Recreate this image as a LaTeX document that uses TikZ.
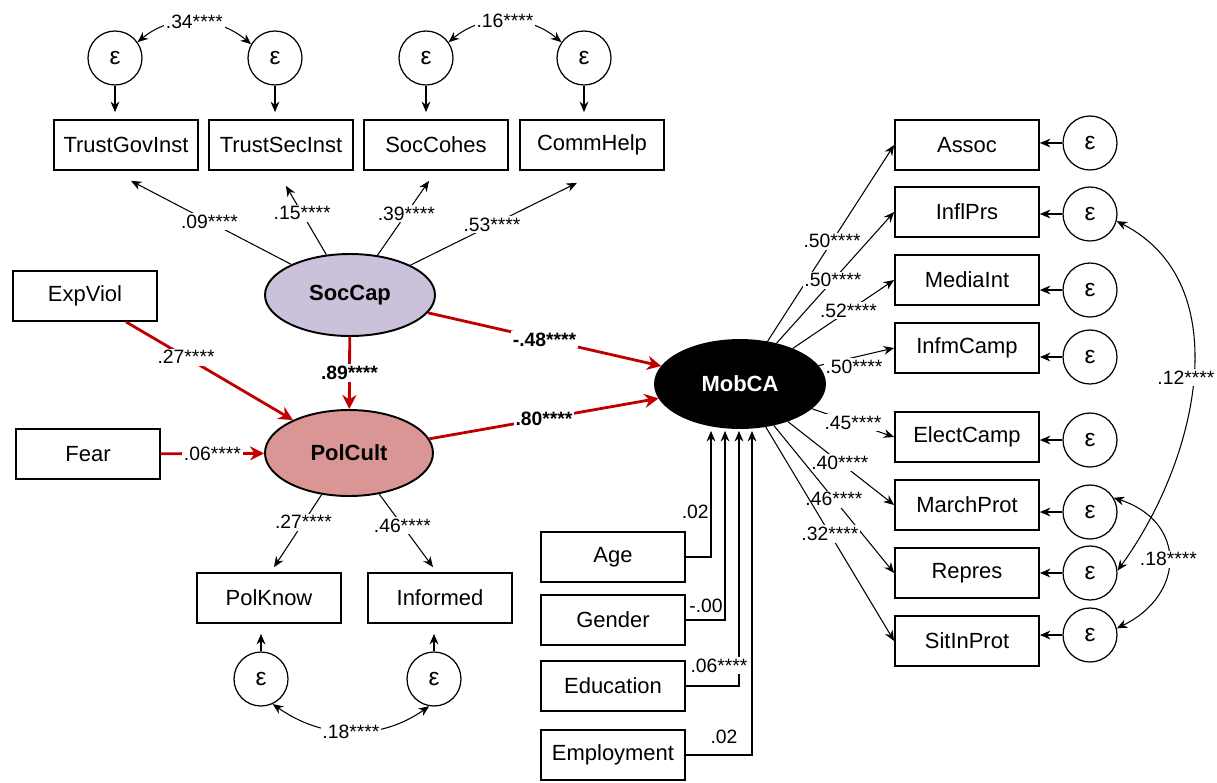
\documentclass[tikz,border=0pt]{standalone}
\usepackage{fontspec}
\setmainfont{Liberation Sans}
\usetikzlibrary{shapes.geometric,arrows.meta,calc}
\definecolor{pathred}{RGB}{192,0,0}
\definecolor{soccapfill}{RGB}{204,193,218}
\definecolor{polcultfill}{RGB}{217,150,148}
\tikzset{
  obs/.style={draw, line width=1pt, minimum width=2.88cm, minimum height=1cm, inner sep=0pt, font=\fontsize{12.5}{14}\selectfont},
  err/.style={draw, circle, line width=0.7pt, minimum size=1.08cm, inner sep=0pt, font=\fontsize{14}{16}\selectfont},
  lat/.style={draw, ellipse, line width=1.1pt, inner sep=0pt, font=\bfseries\fontsize{12.5}{14}\selectfont},
  coef/.style={fill=white, inner sep=1pt, font=\fontsize{11}{13}\selectfont},
  bcoef/.style={coef, font=\bfseries\fontsize{11}{13}\selectfont},
  ctrl/.style={inner sep=1pt, font=\fontsize{11}{13}\selectfont},
  redpath/.style={draw=pathred, line width=1.6pt, -{Stealth[length=8pt,width=8pt]}}
}
\begin{document}
\begin{tikzpicture}[x=0.02cm, y=0.02cm, line width=0.6pt, >={Stealth[length=6pt,width=5pt]}]
    \useasboundingbox (0,0) rectangle (1217,-782);
    \node[err] (e1) at (115,-58) {ε};
    \node[err] (e2) at (275,-58) {ε};
    \node[err] (e3) at (426,-58) {ε};
    \node[err] (e4) at (584,-58) {ε};
    \node[obs] (t1) at (126,-145) {TrustGovInst};
    \node[obs] (t2) at (281,-145) {TrustSecInst};
    \node[obs] (t3) at (436,-145) {SocCohes};
    \node[obs] (t4) at (592,-145) {CommHelp};
    \draw[->, shorten >=0.14cm] (e1.south) -- (e1.south |- t1.north);
    \draw[->, shorten >=0.14cm] (e2.south) -- (e2.south |- t2.north);
    \draw[->, shorten >=0.14cm] (e3.south) -- (e3.south |- t3.north);
    \draw[->, shorten >=0.14cm] (e4.south) -- (e4.south |- t4.north);
    \draw[<->] (e1.35) to[out=40, in=140] node[coef, midway] {.34****} (e2.150);
    \draw[<->] (e3.35) to[out=40, in=140] node[coef, midway] {.16****} (e4.145);

    \node[lat, fill=soccapfill, minimum width=3.4cm, minimum height=1.64cm] (soccap) at (350,-295) {SocCap};
    \node[lat, fill=polcultfill, minimum width=3.36cm, minimum height=1.72cm] (polcult) at (349,-453) {PolCult};
    \node[lat, fill=black, text=white, minimum width=3.4cm, minimum height=1.76cm] (mobca) at (740,-384) {MobCA};
    \draw[->] (soccap) -- ($(t1.south)+(5,-10)$) node[coef, pos=.51] {.09****};
    \draw[->] (soccap) -- ($(t2.south)+(5,-15)$) node[coef, pos=.6] {.15****};
    \draw[->] (soccap) -- ($(t3.south)+(-7,-10)$) node[coef, pos=.56] {.39****};
    \draw[->] (soccap) -- ($(t4.south)+(-15,-12)$) node[coef, pos=.49] {.53****};

    \node[obs] (expviol) at (85,-296) {ExpViol};
    \node[obs] (fear) at (88,-454) {Fear};
    \draw[redpath] ($(expviol.south)+(41,0)$) -- (polcult) node[coef, pos=.36] {.27****};
    \draw[redpath] (fear) -- (polcult) node[coef, midway] {.06****};
    \draw[redpath] (soccap) -- (polcult) node[bcoef, midway] {.89****};
    \draw[redpath] (soccap) -- (mobca) node[bcoef, midway] {-.48****};
    \draw[redpath] (polcult) -- (mobca) node[bcoef, midway] {.80****};

    \node[obs] (polknow) at (269,-598) {PolKnow};
    \node[obs] (informed) at (440,-598) {Informed};
    \node[err] (e5) at (261,-679) {ε};
    \node[err] (e6) at (434,-679) {ε};
    \draw[->] (polcult) -- ($(polknow.north)+(5,5)$) node[coef, pos=.38] {.27****};
    \draw[->] (polcult) -- ($(informed.north)+(-7,5)$) node[coef, pos=.43] {.46****};
    \draw[->, shorten >=0.2cm] (e5.north) -- (e5.north |- polknow.south);
    \draw[->, shorten >=0.2cm] (e6.north) -- (e6.north |- informed.south);
    \draw[<->] (e5.-65) to[out=-35, in=-145] node[coef, midway] {.18****} (e6.-100);

    \node[obs] (age) at (613,-557) {Age};
    \node[obs] (gender) at (613,-620) {Gender};
    \node[obs] (education) at (613,-686) {Education};
    \node[obs] (employment) at (613,-755) {Employment};
    \draw[->] (age.east) -| ($(mobca.south)+(-29,-2)$) node[ctrl, pos=.68, left] {.02};
    \draw[->] (gender.east) -| ($(mobca.south)+(-15,-2)$) node[ctrl, pos=.5, anchor=south east, yshift=3pt] {-.00};
    \draw[->] (education.east) -| ($(mobca.south)+(-1,-2)$) node[coef, pos=.54, xshift=-0.4cm] {.06****};
    \draw[->] (employment.east) -| ($(mobca.south)+(12,-2)$) node[ctrl, pos=.5, anchor=south east, xshift=-7pt, yshift=5pt] {.02};

    \node[obs] (assoc) at (967,-145) {Assoc};
    \node[obs] (inflprs) at (967,-212) {InflPrs};
    \node[obs] (mediaint) at (967,-280) {MediaInt};
    \node[obs] (infmcamp) at (967,-348) {InfmCamp};
    \node[obs] (electcamp) at (967,-437) {ElectCamp};
    \node[obs] (marchprot) at (967,-505) {MarchProt};
    \node[obs] (repres) at (967,-573) {Repres};
    \node[obs] (sitinprot) at (967,-641) {SitInProt};
    \node[err] (r1) at (1090,-143) {ε};
    \node[err] (r2) at (1090,-214) {ε};
    \node[err] (r3) at (1090,-290) {ε};
    \node[err] (r4) at (1090,-357) {ε};
    \node[err] (r5) at (1090,-440) {ε};
    \node[err] (r6) at (1090,-512) {ε};
    \node[err] (r7) at (1090,-573) {ε};
    \node[err] (r8) at (1090,-635) {ε};
    \draw[->] (r1.west) -- (r1.west -| assoc.east);
    \draw[->] (r2.west) -- (r2.west -| inflprs.east);
    \draw[->] (r3.west) -- (r3.west -| mediaint.east);
    \draw[->] (r4.west) -- (r4.west -| infmcamp.east);
    \draw[->] (r5.west) -- (r5.west -| electcamp.east);
    \draw[->] (r6.west) -- (r6.west -| marchprot.east);
    \draw[->] (r7.west) -- (r7.west -| repres.east);
    \draw[->] (r8.west) -- (r8.west -| sitinprot.east);
    \draw[->] (mobca) -- (assoc.west) node[coef, pos=.51] {.50****};
    \draw[->] (mobca) -- (inflprs.west) node[coef, pos=.48] {.50****};
    \draw[->] (mobca) -- (mediaint.west) node[coef, pos=.55] {.52****};
    \draw[->] (mobca) -- (infmcamp.west) node[coef, pos=.47, below=0pt] {.50****};
    \draw[->] (mobca) -- (electcamp.west) node[coef, pos=.5] {.45****};
    \draw[->] (mobca) -- (marchprot.west) node[coef, pos=.49] {.40****};
    \draw[->] (mobca) -- (repres.west) node[coef, pos=.5] {.46****};
    \draw[->] (mobca) -- (sitinprot.west) node[coef, pos=.5] {.32****};
    \draw[<->] (r2.-15) to[out=-27, in=54] node[coef, midway, xshift=-0.14cm] {.12****} (r7.5);
    \draw[<->] (r6.31) to[out=-18, in=26, looseness=1.5] node[coef, midway] {.18****} (r8.14);
\end{tikzpicture}
\end{document}
